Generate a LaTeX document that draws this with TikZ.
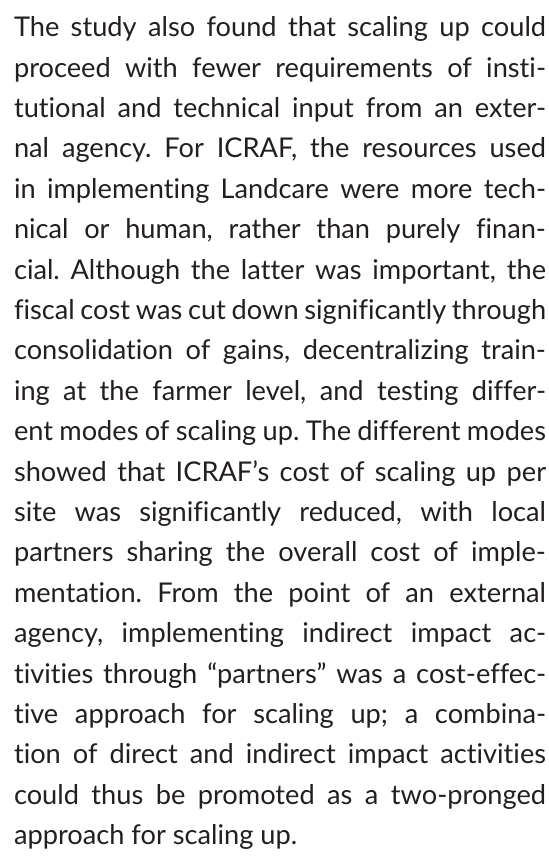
\documentclass[tikz,border=0pt]{standalone}
\usepackage{fontspec}
\setmainfont{Lato}[Ligatures=NoCommon]
\definecolor{ink}{HTML}{231F20}
\newcommand\jline[1]{\hbox to\hsize{#1}}
\newcommand\lastline[1]{\hbox{#1}}
\begin{document}
\begin{tikzpicture}[x=1pt,y=1pt,
  para/.style={inner sep=0pt, outer sep=0pt, anchor=base west, text=ink,
    font=\fontsize{13.6}{20.2}\selectfont\frenchspacing}]
\useasboundingbox[fill=white] (0,0) rectangle (274,429.5);
\node[para] (para) at (7,411.15) {\vtop{\hsize=266pt\parindent=0pt
  \baselineskip=20.2pt\lineskiplimit=-20pt
  \jline{The study also found that scaling up could}
  \jline{proceed with fewer requirements of insti-}
  \jline{tutional and technical input from an exter-}
  \jline{nal agency. For ICRAF, the resources used}
  \jline{in implementing Landcare were more tech-}
  \jline{nical or human, rather than purely finan-}
  \jline{cial. Although the latter was important, the}
  \jline{fiscal cost was cut down significantly through}
  \jline{consolidation of gains, decentralizing train-}
  \jline{ing at the farmer level, and testing differ-}
  \jline{ent modes of scaling up. The different modes}
  \jline{showed that ICRAF’s cost of scaling up per}
  \jline{site was significantly reduced, with local}
  \jline{partners sharing the overall cost of imple-}
  \jline{mentation. From the point of an external}
  \jline{agency, implementing indirect impact ac-}
  \jline{tivities through “partners” was a cost-effec-}
  \jline{tive approach for scaling up; a combina-}
  \jline{tion of direct and indirect impact activities}
  \jline{could thus be promoted as a two-pronged}
  \lastline{approach for scaling up.}}};
\end{tikzpicture}
\end{document}
